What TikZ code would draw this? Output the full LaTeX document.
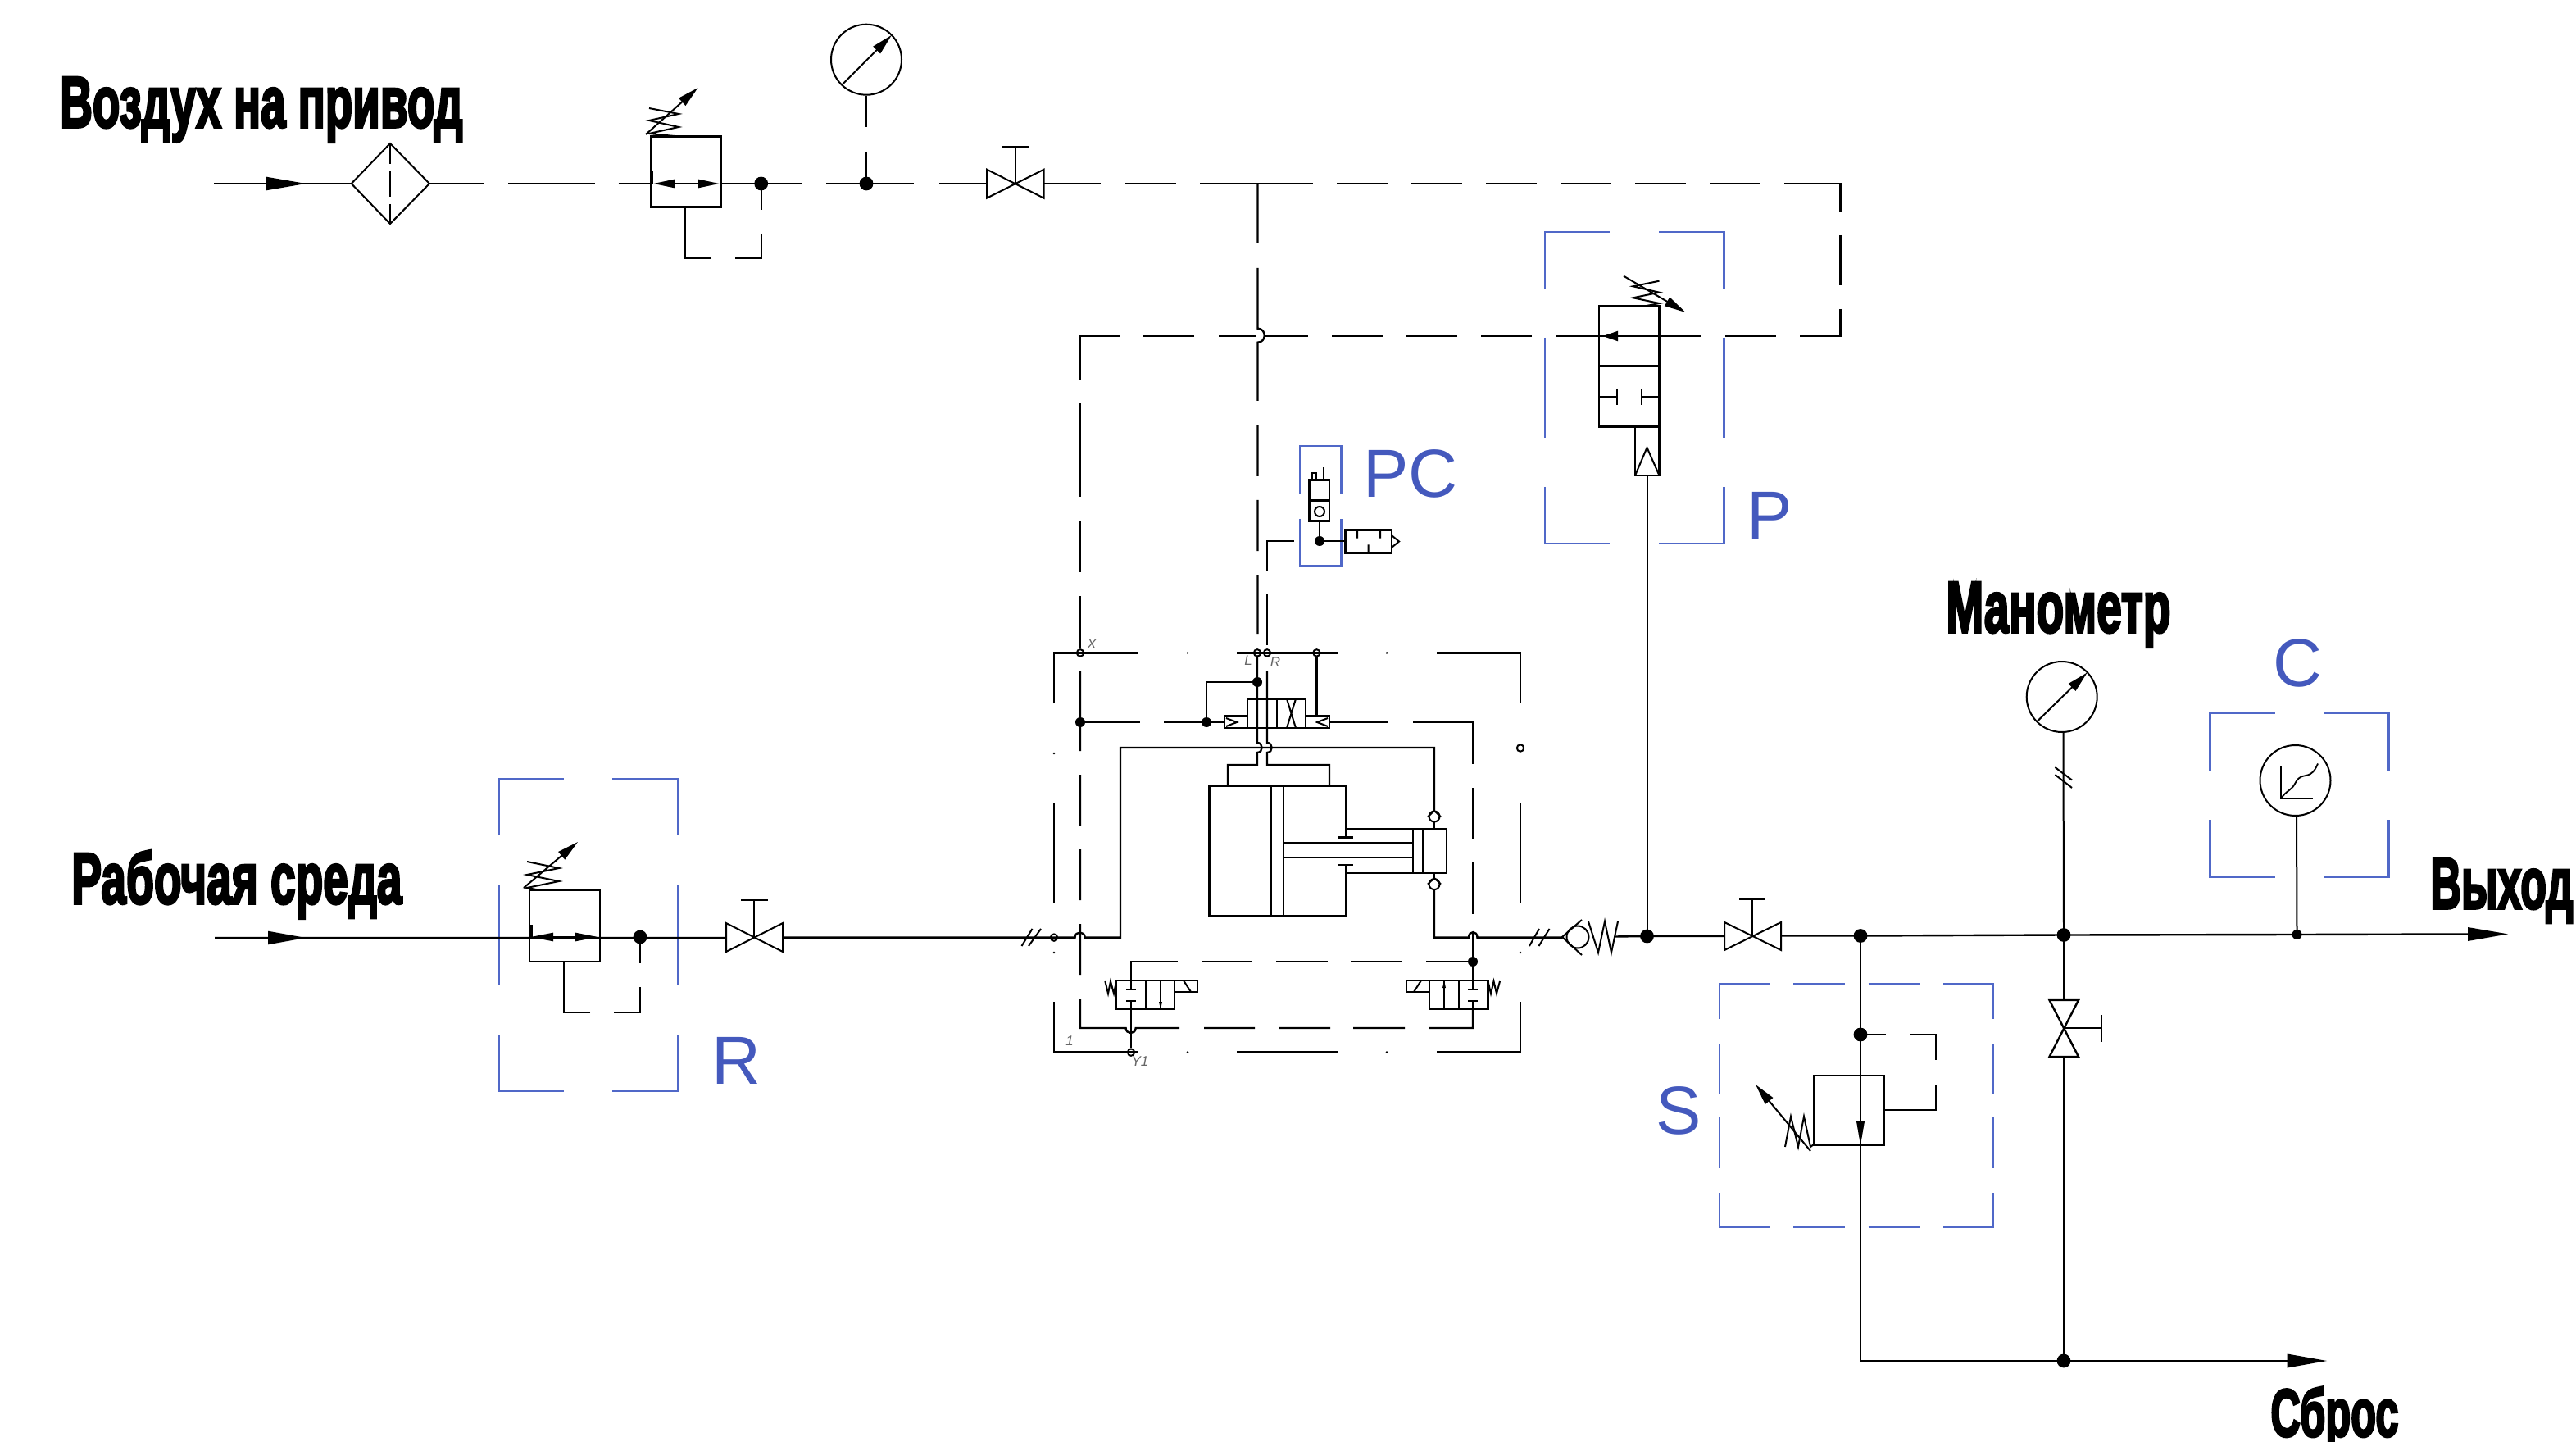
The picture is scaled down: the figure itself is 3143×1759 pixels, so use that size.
\documentclass[tikz,border=0pt]{standalone}
\usepackage{fontspec}
\usepackage{graphicx}
\setmainfont{Liberation Sans}
\newfontfamily\heavy[FakeBold=4]{Liberation Sans Bold}
\usetikzlibrary{arrows.meta}
\definecolor{bluelab}{HTML}{4459BD}
\definecolor{bluebox}{HTML}{5068C8}
\tikzset{
  x=0.5pt,y=-0.5pt,
  ln/.style={draw=black,line width=1.2pt,line cap=butt,line join=miter},
  thinln/.style={draw=black,line width=1pt,line join=miter},
  bl/.style={draw=bluebox,line width=1.25pt},
  hd/.style={-{Triangle[length=13pt,width=6pt]}},
  hdb/.style={{Triangle[length=13pt,width=5pt]}-{Triangle[length=13pt,width=5pt]}},
  dotL/.style={circle,fill=black,inner sep=0pt,minimum size=8.4pt},
  dotS/.style={circle,fill=black,inner sep=0pt,minimum size=6pt},
  dotO/.style={circle,draw=black,fill=white,line width=1pt,inner sep=0pt,minimum size=4.2pt},
  tiny/.style={circle,fill=black,inner sep=0pt,minimum size=1.4pt},
  blab/.style={inner sep=0pt,anchor=base west,text=bluelab,font=\fontsize{41.5}{42}\selectfont},
  slab/.style={inner sep=0pt,text=black!60,font=\fontsize{8.5}{9}\selectfont\itshape},
  head/.style={inner sep=0pt,anchor=base west},
}
\newcommand{\bigtext}[3][44]{\resizebox{#2pt}{\height}{\fontsize{#1}{#1}\heavy #3}}
\begin{document}
\begin{tikzpicture}
\useasboundingbox (0,0) rectangle (3143,1759);
% ---------- headings ----------
\node[head] (tAir) at (73,155) {\bigtext{245.5}{Воздух на привод}};
\node[head] (tWork) at (87,1102) {\bigtext{201.5}{Рабочая среда}};
\node[head] (tMano) at (2374,771) {\bigtext{137}{Манометр}};
\node[head] (tOut) at (2965,1108) {\bigtext{87}{Выход}};
\node[head] (tDump) at (2770,1752) {\bigtext[41]{78}{Сброс}};
\node[blab] (tPC) at (1663,607) {PC};
\node[blab] (tP) at (2131,658) {P};
\node[blab] (tR) at (868,1322) {R};
\node[blab] (tS) at (2020,1383) {S};
\node[blab] (tC) at (2773,837) {C};
\node[slab] (tX) at (1332,786) {X};
\node[slab] (tL) at (1523,806) {L};
\node[slab] (tRr) at (1556,808) {R};
\node[slab] (t1) at (1305,1270) {1};
\node[slab] (tY) at (1391,1295) {Y1};
% ---------- blue frames ----------
% R
\draw[bl] (609,1019)--(609,950)--(688,950) (747,950)--(827,950)--(827,1019)
 (609,1079)--(609,1202) (827,1079)--(827,1202)
 (609,1262)--(609,1331)--(688,1331) (747,1331)--(827,1331)--(827,1262);
% P
\draw[bl] (1885,352)--(1885,283)--(1964,283) (2024,283)--(2103.5,283)--(2103.5,352)
 (1885,412)--(1885,534) (2103.5,412)--(2103.5,534)
 (1885,594)--(1885,663)--(1964,663) (2024,663)--(2103.5,663)--(2103.5,594);
% PC
\draw[bl] (1586,603)--(1586,544)--(1636.7,544)--(1636.7,603)
 (1586,633)--(1586,690.7)--(1636.7,690.7)--(1636.7,633);
% S
\draw[bl] (2098,1243)--(2098,1200)--(2159,1200) (2188,1200)--(2250.5,1200) (2279.5,1200)--(2342,1200) (2371,1200)--(2432,1200)--(2432,1243)
 (2098,1273)--(2098,1334) (2432,1273)--(2432,1334) (2098,1363)--(2098,1425) (2432,1363)--(2432,1425)
 (2098,1455)--(2098,1497)--(2159,1497) (2188,1497)--(2250.5,1497) (2279.5,1497)--(2342,1497) (2371,1497)--(2432,1497)--(2432,1455);
% C
\draw[bl] (2696.5,940)--(2696.5,870)--(2775.6,870) (2835,870)--(2914.5,870)--(2914.5,940)
 (2696.5,1000)--(2696.5,1070)--(2775.6,1070) (2835,1070)--(2914.5,1070)--(2914.5,1000);
% ---------- named junctions ----------
\node[dotL] (jAir1) at (928.7,224) {};
\node[dotL] (jAir2) at (1057,224) {};
\node[dotL] (jR) at (781,1143) {};
\node[dotL] (jP) at (2009.5,1142) {};
\node[dotL] (jS) at (2270,1141.5) {};
\node[dotL] (jS2) at (2270,1262) {};
\node[dotL] (jM) at (2518,1140.5) {};
\node[dotS] (jC) at (2802.5,1140) {};
\node[dotL] (jD) at (2518,1660) {};
\node[dotS] (jPC) at (1610,660) {};
\node[dotS] (jLm) at (1534,832) {};
\node[dotS] (jLp) at (1472,881) {};
\node[dotS] (jXp) at (1318,881) {};
\node[dotS] (jV) at (1797,1173) {};
\node[dotO] (oX) at (1318,796.4) {};
\node[dotO] (oL) at (1534,796.4) {};
\node[dotO] (oR) at (1546,796.4) {};
\node[dotO] (oA) at (1606.4,796.4) {};
\node[dotO] (oY) at (1380,1283.6) {};
\node[dotO] (oIn) at (1286,1143.6) {};
\node[dotO] (oE) at (1855,912.5) {};
\foreach \n/\p in {a/{1449,796.4},b/{1692,796.4},c/{1449,1283.6},d/{1692,1283.6},e/{1286,919},f/{1286,1162},g/{1855,1162}}
  {\node[tiny] (d\n) at (\p) {};}
% ---------- air line ----------
\draw[ln] (261,224)--(428.7,224) (524,224)--(590,224) (620,224)--(726,224) (754.6,224)--(794,224)
 (880,224)--(978.5,224) (1008,224)--(1115,224) (1146,224)--(1204,224) (1273.6,224)--(1343,224) (1373,224)--(1435,224) (1464,224)--(1602,224)
 (1631,224)--(1693,224) (1722,224)--(1784,224) (1813,224)--(1875,224) (1904,224)--(1966,224) (1995,224)--(2057,224) (2086,224)--(2148,224) (2177,224)--(2245.5,224)--(2245.5,258)
 (2245.5,287)--(2245.5,348) (2245.5,377)--(2245.5,410)--(2195.6,410) (2166.5,410)--(2104.5,410) (2075.4,410)--(1898,410) (1869,410)--(1807,410) (1778,410)--(1716,410) (1686.6,410)--(1624.6,410) (1595.5,410)--(1543,410)
 (1533,410)--(1487,410) (1457,410)--(1395,410) (1366,410)--(1317.5,410)--(1317.5,463);
\fill (325,215.7)--(373,224)--(325,232.3)--cycle;
% filter
\draw[thinln] (428.7,224)--(476,175)--(524,224)--(476,273)--cycle;
\draw[black,line width=.7pt] (476,175)--(476,200) (476,209)--(476,240) (476,249)--(476,273);
% reducer (air)
\draw[ln] (794,166.7) rectangle (880,252.7);
\draw[ln] (795.5,209)--(795.5,224);
\draw[ln,hdb] (797,224)--(878,224);
\draw[thinln] (792,132)--(828,139)--(792,147)--(828,155)--(792,163)--(830,166.7);
\draw[thinln,hd] (788,164)--(851.6,107);
\draw[thinln] (jAir1.center)--(928.7,255.7) (928.7,285)--(928.7,315)--(897,315) (868,315)--(836,315)--(836,252.7);
% gauge (air)
\node[circle,draw=black,line width=1pt,inner sep=0pt,minimum size=43pt] (gA) at (1057,72.7) {};
\draw[thinln,hd] (1028,102.7)--(1088,42.7);
\draw[thinln] (gA.south)--(1057,155) (1057,185)--(jAir2.center);
% valve (air)
\draw[thinln] (1204,206.7)--(1273.6,241.7)--(1273.6,206.7)--(1204,241.7)--cycle;
\draw[thinln] (1239,224)--(1239,179) (1223,179)--(1254.6,179);
% vertical drop from air line
\draw[ln] (1534.5,224)--(1534.5,297) (1534.5,327)--(1534.5,400.7) .. controls (1545.5,400.7) and (1545.5,417.7) .. (1534.5,417.7)--(1534.5,489)
 (1534.5,519)--(1534.5,581) (1534.5,610)--(1534.5,672) (1534.5,701)--(1534.5,773);
\draw[ln] (1317.5,492)--(1317.5,606) (1317.5,636)--(1317.5,698) (1317.5,727)--(1317.5,790);
\draw[ln] (1318,819)--(1318,916) (1318,945)--(1318,1007) (1318,1036)--(1318,1098) (1318,1127)--(1318,1189) (1318,1219)--(1318,1254)--(1373.6,1254)
 .. controls (1373.6,1262) and (1385.7,1262) .. (1385.7,1254)--(1439,1254) (1469,1254)--(1531,1254) (1560,1254)--(1623,1254) (1651,1254)--(1714,1254) (1743,1254)--(1797,1254)--(1797,1231);
% PC pilot
\draw[ln] (1546,787)--(1546,725) (1546,696)--(1546,660)--(1579,660);
\draw[ln] (jPC.center)--(1641.5,660);
\draw[ln] (1597.4,585.7) rectangle (1622,635.7) (1597.4,610.7)--(1622,610.7);
\draw[thinln] (1610,624) circle[radius=6];
\draw[ln] (1610,635.7)--(jPC.center);
\draw[thinln] (1601,585.7)--(1601,576.7)--(1605.7,576.7)--(1605.7,585.7) (1615,585.7)--(1615,570);
\draw[ln] (1641.5,646.7) rectangle (1697.8,674.3);
\draw[thinln] (1656,646.7)--(1656,656.7) (1684,646.7)--(1684,656.7) (1669.7,664.3)--(1669.7,674.3) (1697.8,653)--(1707,660.5)--(1697.8,668);
% P valve
\draw[ln] (1951,373) rectangle (2024.5,520.7) (1951,446.7)--(2024.5,446.7);
\fill (1955.6,410)--(1974,403.7)--(1974,416.3)--cycle;
\draw[thinln] (1951,484)--(1972.6,484) (1972.6,474)--(1972.6,494) (2024.5,484)--(2002.7,484) (2002.7,474)--(2002.7,494);
\draw[ln] (1995,520.7) rectangle (2024.5,580);
\draw[thinln] (1995,580)--(2009.5,546)--(2024.5,580);
\draw[thinln] (2024.5,342.7)--(1992.5,349.3)--(2024.5,356.7)--(1992.5,363.3)--(2024.5,370)--(2009,373);
\draw[thinln,hd] (1981,336.7)--(2056.5,381);
\draw[thinln] (jP.center)--(2009.5,580);
% ---------- outer module frame ----------
\draw[ln] (1286,858)--(1286,796.4)--(1388,796.4) (1509,796.4)--(1632,796.4) (1753,796.4)--(1855,796.4)--(1855,858)
 (1286,979)--(1286,1101) (1855,979)--(1855,1101)
 (1286,1222)--(1286,1283.6)--(1388,1283.6) (1509,1283.6)--(1632,1283.6) (1753,1283.6)--(1855,1283.6)--(1855,1222);
% upper pilot line
\draw[ln] (1318,881)--(1391,881) (1420,881)--(1494,881) (1622,881)--(1694,881) (1724,881)--(1797,881)--(1797,932) (1797,961)--(1797,1024) (1797,1051)--(1797,1115);
% main valve
\draw[ln] (1522,852.5) rectangle (1593,888) (1558,852.5)--(1558,888);
\draw[ln] (1494,873.6) rectangle (1522,888) (1593,873.6) rectangle (1622,888);
\draw[thinln] (1496,876)--(1509,881)--(1496,886) (1620,876)--(1607,881)--(1620,886);
\draw[thinln] (1570,852.5)--(1581,888) (1581,852.5)--(1570,888);
\draw[ln] (oL)--(1534,906) .. controls (1541.5,906) and (1541.5,918) .. (1534,918)--(1534,933)--(1498,933)--(1498,958.6);
\draw[ln] (1546,819)--(1546,906) .. controls (1553.5,906) and (1553.5,918) .. (1546,918)--(1546,933)--(1622,933)--(1622,958.6);
\draw[ln] (oA)--(1606.4,873.6);
\draw[ln] (jLm.center)--(1472,832)--(jLp.center);
% main line through the module
\draw[ln] (262,1144)--(886,1144) (955,1143.6)--(1311.5,1143.6) .. controls (1311.5,1135.5) and (1323.7,1135.5) .. (1323.7,1143.6)--(1367,1143.6)--(1367,912)--(1750,912)--(1750,989);
\fill (327,1135.7)--(373,1144)--(327,1152.3)--cycle;
\draw[thinln] (1750,1003)--(1750,1011) (1750,1065)--(1750,1071);
\draw[thinln] (1742,996.4)--(1750,989)--(1758,996.4) (1742,1078.6)--(1750,1071)--(1758,1078.6);
\draw[thinln] (1750,996) circle[radius=6.5] (1750,1078.6) circle[radius=6.5];
\draw[ln] (1750,1085)--(1750,1143.6)--(1792,1143.6) .. controls (1792,1135) and (1802.5,1135) .. (1802.5,1143.6)--(1906,1143.6);
\draw[ln] (1797,1138)--(jV.center)--(1797,1196);
% cylinder
\draw[ln] (1642,1021.4)--(1642,958.6)--(1475.5,958.6)--(1475.5,1117)--(1642,1117)--(1642,1055);
\draw[ln] (1551,958.6)--(1551,1117) (1566,958.6)--(1566,1117);
\draw[ln] (1642,1011)--(1765,1011)--(1765,1065)--(1642,1065);
\draw[ln] (1724,1011)--(1724,1065) (1736.5,1011)--(1736.5,1065);
\draw[ln] (1566,1028.6)--(1724,1028.6) (1566,1046)--(1724,1046);
\draw[ln] (1632,1021.4)--(1651,1021.4) (1632,1055)--(1651,1055);
% lower pilot
\draw[ln] (jV.center)--(1740,1173) (1711,1173)--(1648,1173) (1620,1173)--(1557,1173) (1528,1173)--(1466,1173) (1437,1173)--(1380,1173)--(1380,1207) (1374,1207)--(1386,1207) (1374,1221)--(1386,1221) (1380,1221)--(1380,1260)--(oY);
\draw[ln] (1797,1207)--(1797,1196) (1791,1207)--(1803,1207) (1791,1221)--(1803,1221) (1797,1221)--(1797,1231);
% left solenoid valve
\draw[ln] (1362,1196) rectangle (1433,1231) (1398,1196)--(1398,1231);
\draw[thinln] (1416,1196)--(1416,1231);
\fill (1416,1231)--(1414,1222)--(1418,1222)--cycle;
\draw[ln] (1433,1196) rectangle (1461,1210);
\draw[thinln] (1444,1196)--(1453,1210);
\draw[thinln] (1348.4,1197)--(1352,1212)--(1355,1197)--(1359,1212)--(1362,1197);
% right solenoid valve
\draw[ln] (1744,1196) rectangle (1815.5,1231) (1780,1196)--(1780,1231);
\draw[thinln] (1762,1196)--(1762,1231);
\fill (1762,1196)--(1760,1205)--(1764,1205)--cycle;
\draw[ln] (1716,1196) rectangle (1744,1210);
\draw[thinln] (1734,1196)--(1725,1210);
\draw[thinln] (1815.5,1197)--(1819,1212)--(1822.5,1197)--(1826,1212)--(1830,1197);
% double strokes
\draw[thinln] (1246.5,1154)--(1259.5,1133) (1255,1154)--(1270,1133) (1866,1154)--(1878,1133) (1877.5,1154)--(1890.5,1133);
% reducer R
\draw[ln] (646,1086) rectangle (732,1173);
\draw[ln,{Triangle[length=14pt,width=5pt]}-{Triangle[length=14pt,width=5pt]}] (647,1143)--(730,1143);
\draw[line width=2.2pt] (647.5,1128)--(647.5,1143);
\draw[thinln] (643,1051)--(682,1059)--(643,1067)--(682,1075)--(643,1083)--(660,1086);
\draw[thinln,hd] (639,1083)--(705,1027);
\draw[thinln] (jR.center)--(781,1175) (781,1204)--(781,1235)--(749,1235) (720,1235)--(688,1235)--(688,1173);
% valve R
\draw[thinln] (886,1126)--(955,1161)--(955,1126)--(886,1161)--cycle;
\draw[thinln] (920,1143.5)--(920,1098) (904,1098)--(937,1098);
% check valve, spring
\draw[thinln] (1930,1122)--(1906,1143)--(1930,1165);
\draw[thinln] (1925,1143) circle[radius=13.5];
\draw[thinln] (1938,1124)--(1950,1162)--(1958,1124)--(1966,1162)--(1974,1124);
\draw[ln] (1970,1142.5)--(jP.center);
% right main line
\draw[ln] (jP.center)--(2104,1142) (2173,1141.5)--(jS.center)--(jM.center)--(jC.center)--(3012,1139.5);
\fill (3011,1131)--(3060,1139.4)--(3011,1148)--cycle;
% valve 2
\draw[thinln] (2104,1125)--(2173,1159)--(2173,1125)--(2104,1159)--cycle;
\draw[thinln] (2138,1142)--(2138,1097) (2122,1097)--(2154,1097);
% dump branch
\draw[ln] (jS.center)--(2270,1660)--(jD.center)--(2792,1660);
\fill (2790.7,1651.5)--(2839,1660)--(2790.7,1668.5)--cycle;
\fill (2270,1397)--(2265,1368)--(2275,1368)--cycle;
\draw[thinln] (2213,1312) rectangle (2299,1397);
\draw[thinln] (jS2.center)--(2301,1262) (2331,1262)--(2362,1262)--(2362,1293) (2362,1323)--(2362,1354)--(2299,1354);
\draw[thinln] (2178,1399)--(2185,1362)--(2194,1399)--(2201,1362)--(2209,1399)--(2213,1396);
\draw[thinln,hd] (2209,1404)--(2142,1323);
% vertical valve, gauge
\draw[thinln] (jM.center)--(2518,1220) (2518,1289)--(jD.center);
\draw[ln] (2500.5,1220)--(2536,1220)--(2500.5,1289)--(2536,1289)--cycle;
\draw[thinln] (2518,1254)--(2564,1254) (2564,1238)--(2564,1271);
\node[circle,draw=black,line width=1pt,inner sep=0pt,minimum size=43pt] (gM) at (2515.7,850) {};
\draw[thinln,hd] (2485,880.5)--(2546.7,820.3);
\draw[thinln] (2517.5,893)--(jM.center);
\draw[thinln] (2507.4,936)--(2528,951.5) (2507.4,945)--(2528,961);
% chart recorder
\node[circle,draw=black,line width=1pt,inner sep=0pt,minimum size=43pt] (gC) at (2800.5,952) {};
\draw[thinln] (2802,995)--(jC.center);
\draw[thinln] (2783,935)--(2783,974)--(2822,974);
\draw[black,line width=.9pt] (2783,974) .. controls (2790,964) and (2796,964) .. (2800,956) .. controls (2806,944) and (2812,948) .. (2819,944) .. controls (2824,941) and (2826,936) .. (2828,931.5);
\end{tikzpicture}
\end{document}
